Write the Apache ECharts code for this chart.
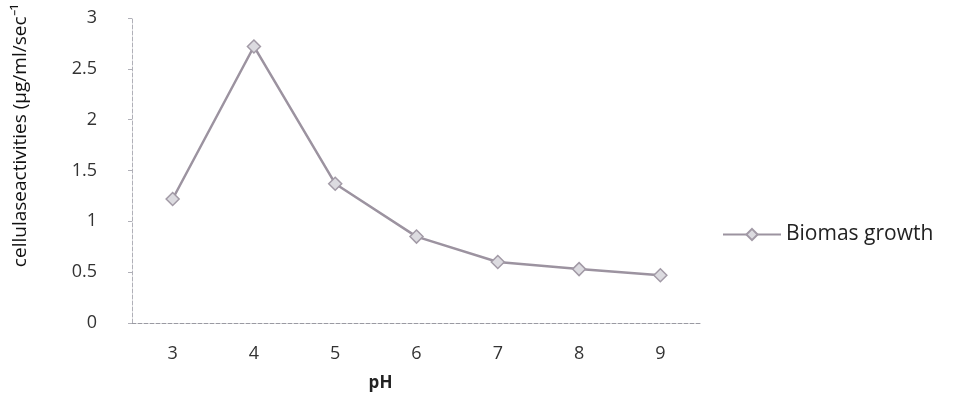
<!DOCTYPE html>
<html>
<head>
<meta charset="utf-8">
<script src="https://cdn.jsdelivr.net/npm/echarts@6/dist/echarts.min.js"></script>
<style>
  html, body { margin: 0; padding: 0; background: #fff; }
  #chart { width: 962px; height: 410px; }
</style>
</head>
<body>
<div id="chart"></div>
<script>
  // pH values on the x axis
  var categories = ['3', '4', '5', '6', '7', '8', '9'];
  // cellulase activity
  var biomasGrowth = [1.22, 2.72, 1.37, 0.85, 0.6, 0.53, 0.47];
  var yTicks = [0, 0.5, 1, 1.5, 2, 2.5, 3];

  var chart = echarts.init(document.getElementById('chart'));
  var font = 'Open Sans';
  var option = {
    backgroundColor: '#fff',
    animation: false,
    textStyle: { fontFamily: font },
    legend: {
      data: ['Biomas growth'],
      left: 717,
      top: 219,
      itemWidth: 58,
      itemHeight: 14,
      itemGap: 6,
      textStyle: { color: '#222', fontSize: 21, fontFamily: font }
    },
    grid: {
      left: 132,
      right: 261,
      top: 18,
      bottom: 87,
      outerBoundsMode: 'none'
    },
    xAxis: {
      type: 'category',
      data: categories,
      name: 'pH',
      nameLocation: 'middle',
      nameGap: 52,
      nameTextStyle: {
        color: '#222', fontSize: 17, fontWeight: 'bold', fontFamily: font,
        padding: [0, 72, 0, 0]
      },
      axisLine: { lineStyle: { color: '#9a9aa2', width: 1, type: 'dashed' } },
      axisTick: { show: false },
      axisLabel: { color: '#333', fontSize: 18, margin: 22 }
    },
    yAxis: {
      type: 'value',
      min: yTicks[0],
      max: yTicks[yTicks.length - 1],
      interval: 0.5,
      name: 'cellulaseactivities (µg/ml/sec⁻¹',
      nameLocation: 'middle',
      nameGap: 102,
      nameTextStyle: {
        color: '#111', fontSize: 19, fontFamily: font,
        padding: [0, 0, 0, 70]
      },
      axisLine: { show: true, lineStyle: { color: '#b0b0b8', width: 1, type: 'dashed' } },
      axisTick: { show: true, length: 4, inside: false, lineStyle: { color: '#b0b0b8' } },
      splitLine: { show: false },
      axisLabel: { color: '#333', fontSize: 18, margin: 35 }
    },
    series: [{
      name: 'Biomas growth',
      type: 'line',
      data: biomasGrowth,
      symbol: 'diamond',
      symbolSize: 13,
      lineStyle: { color: '#9c93a0', width: 2.5 },
      itemStyle: { color: '#dcdbe0', borderColor: '#a29aa6', borderWidth: 1.5 }
    }]
  };
  chart.setOption(option);
</script>
</body>
</html>
